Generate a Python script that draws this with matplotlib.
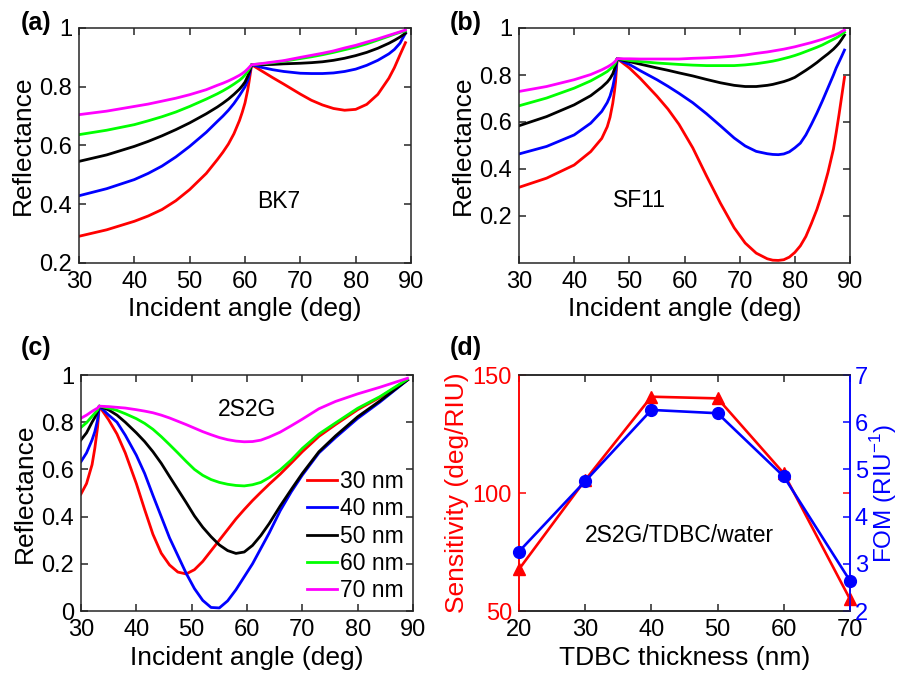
import numpy as np
import matplotlib
matplotlib.use("Agg")
import matplotlib.pyplot as plt
from matplotlib.ticker import FormatStrFormatter

plt.rcParams['font.family'] = ['Liberation Sans', 'DejaVu Sans']
plt.rcParams['mathtext.fontset'] = 'custom'
plt.rcParams['mathtext.rm'] = 'Liberation Sans'
plt.rcParams['axes.linewidth'] = 1.1

## espessuras e cores das curvas
espessuras = ['30 nm', '40 nm', '50 nm', '60 nm', '70 nm']
cores = ['#ff0000', '#0000ff', '#000000', '#00ff00', '#ff00ff']

## (a) prisma BK7
ang_bk7 = [30, 35, 40, 42.5, 45, 47.5, 50, 53, 55, 56, 57, 58, 59, 59.5, 60, 60.5, 60.8, 61.2,
           63, 65, 67, 70, 72, 74, 76, 78, 80, 82, 84, 86, 87, 88, 89]
r_bk7_30 = [.291, .313, .342, .36, .382, .412, .45, .505, .552, .577, .605, .64, .685, .713, .745, .79, .825, .875,
            .854, .831, .809, .775, .754, .738, .726, .72, .723, .74, .774, .829, .865, .908, .95]
r_bk7_40 = [.429, .453, .484, .505, .53, .561, .597, .645, .682, .7, .72, .743, .77, .785, .8, .822, .843, .875,
            .866, .858, .852, .846, .845, .845, .847, .852, .86, .873, .89, .912, .927, .948, .982]
r_bk7_50 = [.546, .568, .597, .614, .633, .654, .677, .708, .731, .744, .758, .774, .792, .803, .816, .836, .851, .875,
            .875, .876, .878, .88, .882, .885, .89, .897, .906, .917, .931, .948, .958, .969, .982]
r_bk7_60 = [.637, .652, .671, .684, .698, .714, .733, .758, .776, .786, .797, .809, .822, .83, .84, .853, .862, .875,
            .878, .882, .887, .896, .902, .909, .917, .926, .935, .946, .959, .972, .979, .985, .99]
r_bk7_70 = [.705, .717, .733, .741, .751, .761, .773, .79, .805, .812, .82, .829, .839, .845, .852, .861, .867, .875,
            .879, .884, .889, .9, .907, .914, .922, .932, .941, .952, .963, .975, .981, .987, .993]

## (b) prisma SF11
ang_sf11 = [30, 35, 40, 43, 45, 46, 46.5, 47, 47.3, 47.5, 47.8,
            49, 50, 52, 55, 57, 59, 61.5, 64, 66.5, 69, 71, 73, 75, 76, 77, 78, 79, 80,
            81, 82, 83, 84, 85, 86, 87, 87.5, 88, 88.5, 89]
r_sf11_30 = [.322, .361, .417, .474, .53, .58, .62, .68, .73, .77, .87,
             .848, .83, .785, .71, .655, .59, .49, .37, .255, .15, .085, .042, .018, .012, .011,
             .014, .025, .045, .073, .113, .168, .228, .3, .385, .485, .555, .63, .71, .79]
r_sf11_40 = [.464, .496, .545, .595, .645, .683, .71, .75, .785, .81, .87,
             .855, .845, .818, .78, .752, .722, .682, .635, .584, .532, .498, .475, .465, .462, .461,
             .464, .473, .49, .51, .545, .59, .638, .69, .745, .8, .83, .855, .88, .906]
r_sf11_50 = [.584, .623, .673, .712, .748, .77, .785, .805, .825, .84, .87,
             .862, .857, .846, .83, .82, .809, .796, .781, .767, .756, .751, .751, .756, .76, .766,
             .772, .78, .79, .805, .82, .836, .853, .872, .89, .91, .922, .935, .952, .97]
r_sf11_60 = [.669, .702, .744, .775, .801, .815, .825, .835, .845, .853, .87,
             .866, .862, .857, .851, .848, .845, .842, .84, .84, .84, .843, .848, .855, .859, .864,
             .87, .876, .883, .891, .9, .909, .918, .928, .94, .952, .958, .965, .973, .982]
r_sf11_70 = [.73, .751, .78, .802, .822, .834, .841, .849, .855, .86, .87,
             .869, .869, .868, .868, .868, .868, .871, .873, .876, .88, .885, .892, .898, .902, .906,
             .91, .915, .92, .926, .932, .938, .945, .952, .96, .968, .973, .978, .985, .991]

## (c) prisma 2S2G
ang_2s2g = [30, 31, 32, 32.5, 33, 33.3, 35, 36.5, 38, 40, 41.5, 43, 44.5, 46, 47.5, 49, 50.5,
            52, 53.5, 55, 56.5, 58, 59.5, 61, 62.5, 64, 66, 68, 70, 73, 76, 80, 84, 89]
r_2s2g_30 = [.496, .54, .62, .69, .78, .868, .81, .75, .67, .54, .43, .325, .245, .195, .165,
             .157, .175, .21, .255, .3, .345, .39, .43, .468, .503, .537, .58, .627, .675, .74,
             .79, .853, .905, .979]
r_2s2g_40 = [.633, .67, .725, .76, .81, .868, .83, .8, .745, .66, .583, .49, .4, .31, .235,
             .16, .095, .045, .015, .013, .043, .09, .145, .2, .265, .33, .425, .505, .576,
             .67, .735, .816, .885, .979]
r_2s2g_50 = [.725, .755, .8, .82, .845, .868, .852, .83, .8, .755, .718, .675, .626, .57, .515,
             .46, .403, .355, .315, .28, .256, .244, .25, .278, .32, .37, .445, .515, .583,
             .675, .742, .823, .89, .979]
r_2s2g_60 = [.778, .798, .825, .838, .852, .868, .86, .85, .836, .815, .795, .77, .739, .705,
             .67, .634, .6, .575, .557, .545, .537, .532, .53, .535, .545, .565, .598, .64,
             .689, .75, .797, .859, .908, .982]
r_2s2g_70 = [.817, .83, .846, .853, .86, .868, .866, .863, .86, .853, .847, .84, .83, .818,
             .804, .79, .775, .76, .747, .735, .726, .72, .717, .718, .724, .737, .758, .785,
             .813, .857, .888, .92, .948, .986]

## (d) sensibilidade e FOM
espessura_tdbc = [20, 30, 40, 50, 60, 70]
sensibilidade = [67.7, 105.5, 140.8, 140.1, 108.3, 55.0]
fom = [3.26, 4.75, 6.26, 6.19, 4.85, 2.64]

curvas_bk7 = [r_bk7_30, r_bk7_40, r_bk7_50, r_bk7_60, r_bk7_70]
curvas_sf11 = [r_sf11_30, r_sf11_40, r_sf11_50, r_sf11_60, r_sf11_70]
curvas_2s2g = [r_2s2g_30, r_2s2g_40, r_2s2g_50, r_2s2g_60, r_2s2g_70]

fs_tick = 17
fs_label = 19
fs_texto = 16.5
cor_eixo = '#262626'

fig = plt.figure(figsize=(8.99, 6.79), dpi=100)
W, H = 899, 679

def eixo(x0, y0, x1, y1):
    # caixa em pixels (esquerda, topo, direita, base)
    return fig.add_axes([x0 / W, 1 - y1 / H, (x1 - x0) / W, (y1 - y0) / H])

def estilo(ax):
    ax.tick_params(direction='in', top=True, right=True, labelsize=fs_tick,
                   length=5, width=1.1, color=cor_eixo)
    ax.tick_params(axis='x', pad=6)
    ax.tick_params(axis='y', pad=5)
    for s in ax.spines.values():
        s.set_color(cor_eixo)
    ax.yaxis.set_major_formatter(FormatStrFormatter('%g'))

def painel_refletancia(ax, angulos, curvas, ylim, yticks):
    for r, c, lab in zip(curvas, cores, espessuras):
        ax.plot(angulos, r, color=c, lw=2.0, label=lab)
    ax.set_xlim(30, 90)
    ax.set_ylim(*ylim)
    ax.set_xticks(np.arange(30, 91, 10))
    ax.set_yticks(yticks)
    ax.set_xlabel('Incident angle (deg)', fontsize=fs_label, labelpad=3)
    ax.set_ylabel('Reflectance', fontsize=fs_label, labelpad=3)
    estilo(ax)

ax_a = eixo(79, 28, 411, 263)
painel_refletancia(ax_a, ang_bk7, curvas_bk7, (0.2, 1), [0.2, 0.4, 0.6, 0.8, 1])
ax_a.text(66, 0.41, 'BK7', fontsize=fs_texto, ha='center', va='center')

ax_b = eixo(519, 28, 850, 263)
painel_refletancia(ax_b, ang_sf11, curvas_sf11, (0, 1), [0.2, 0.4, 0.6, 0.8, 1])
ax_b.text(51.8, 0.268, 'SF11', fontsize=fs_texto, ha='center', va='center')

ax_c = eixo(81, 375, 413, 611)
painel_refletancia(ax_c, ang_2s2g, curvas_2s2g, (0, 1), [0, 0.2, 0.4, 0.6, 0.8, 1])
ax_c.text(60, 0.855, '2S2G', fontsize=fs_texto, ha='center', va='center')
ax_c.legend(loc='lower right', frameon=False, fontsize=fs_texto, handlelength=1.3,
            handletextpad=0.15, labelspacing=0.18, borderpad=0.2, borderaxespad=0.2)

## (d) dois eixos y
ax_d = eixo(519, 375, 850, 611)
ax_d2 = ax_d.twinx()
ax_d.plot(espessura_tdbc, sensibilidade, color='#ff0000', lw=1.9, marker='^', ms=9,
          clip_on=False, zorder=3)
ax_d2.plot(espessura_tdbc, fom, color='#0000ff', lw=1.9, marker='o', ms=8.5,
           clip_on=False, zorder=3)
ax_d.set_xlim(20, 70)
ax_d.set_ylim(50, 150)
ax_d2.set_ylim(2, 7)
ax_d.set_xticks(espessura_tdbc)
ax_d.set_yticks([50, 100, 150])
ax_d2.set_yticks([2, 3, 4, 5, 6, 7])
ax_d.set_xlabel('TDBC thickness (nm)', fontsize=fs_label, labelpad=3)
ax_d.set_ylabel('Sensitivity (deg/RIU)', fontsize=fs_label, color='#ff0000', labelpad=3)
ax_d2.set_ylabel('FOM (RIU$^{-1}$)', fontsize=17.5, color='#0000ff', labelpad=0)
ax_d.tick_params(direction='in', top=True, right=True, labelsize=fs_tick, length=5,
                 width=1.1, color=cor_eixo)
ax_d.tick_params(axis='x', pad=6)
ax_d.tick_params(axis='y', colors='#ff0000', pad=5)
ax_d2.tick_params(direction='in', labelsize=fs_tick, length=5, width=1.1,
                  colors='#0000ff', pad=3.5)
for s in ['top', 'bottom']:
    ax_d.spines[s].set_color(cor_eixo)
    ax_d2.spines[s].set_color(cor_eixo)
ax_d2.spines['left'].set_color('#ff0000')
ax_d2.spines['right'].set_color('#0000ff')
ax_d.spines['left'].set_color('#ff0000')
ax_d.spines['right'].set_color('#0000ff')
ax_d.text(44.3, 82.2, '2S2G/TDBC/water', fontsize=fs_texto, ha='center', va='center')

## letras dos paineis
for txt, px, py in [('(a)', 21, 23), ('(b)', 450, 23), ('(c)', 21, 348), ('(d)', 450, 348)]:
    fig.text(px / W, 1 - py / H, txt, fontsize=18, fontweight='bold',
             ha='left', va='center')

fig.savefig('out.png', dpi=100)
